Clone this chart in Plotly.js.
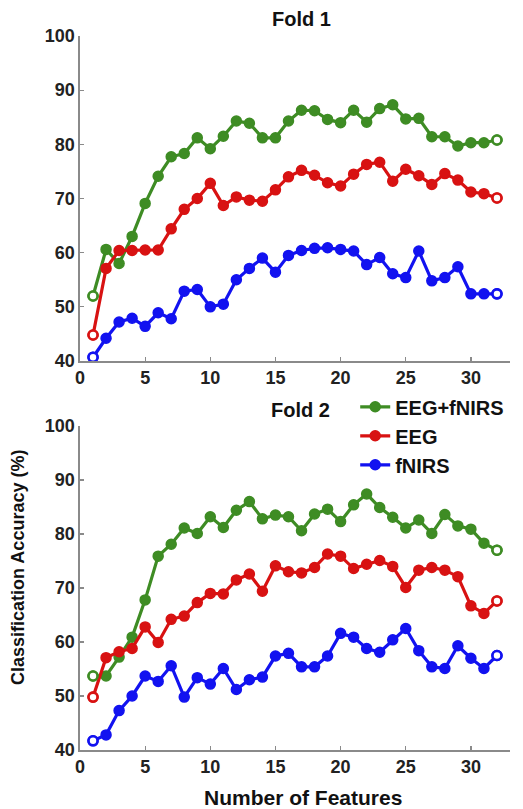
<!DOCTYPE html>
<html>
<head>
<meta charset="utf-8">
<script src="https://cdn.plot.ly/plotly-3.0.1.min.js"></script>
<style>html,body{margin:0;padding:0;background:#fff;}#chart{width:523px;height:809px;}</style>
</head>
<body>
<div id="chart"></div>
<script>
const features = [1,2,3,4,5,6,7,8,9,10,11,12,13,14,15,16,17,18,19,20,21,22,23,24,25,26,27,28,29,30,31,32];

const fold1Both  = [52.0,60.6,58.0,63.0,69.1,74.1,77.7,78.3,81.2,79.2,81.5,84.3,83.9,81.2,81.2,84.3,86.3,86.2,84.6,84.0,86.3,84.1,86.6,87.3,84.7,84.8,81.4,81.4,79.7,80.3,80.3,80.8];
const fold1EEG   = [44.8,57.1,60.4,60.4,60.5,60.5,64.4,68.0,70.0,72.8,68.7,70.3,69.7,69.5,71.6,74.0,75.2,74.3,72.9,72.3,74.5,76.3,76.7,73.2,75.4,74.2,72.6,74.6,73.4,71.2,70.9,70.1];
const fold1fNIRS = [40.7,44.2,47.2,47.9,46.4,48.9,47.8,52.9,53.2,50.0,50.5,55.0,57.1,59.0,56.4,59.5,60.4,60.8,60.9,60.6,60.3,57.8,59.1,56.1,55.4,60.3,54.8,55.4,57.4,52.4,52.4,52.4];

const fold2Both  = [53.7,53.7,57.2,60.9,67.8,75.9,78.1,81.1,80.1,83.2,81.2,84.4,86.0,82.8,83.5,83.2,80.6,83.7,84.6,82.3,85.4,87.4,84.9,83.1,81.1,82.6,80.1,83.6,81.5,80.9,78.3,77.0];
const fold2EEG   = [49.8,57.1,58.2,58.8,62.8,59.9,64.2,64.8,67.3,69.0,68.9,71.5,72.6,69.4,74.1,73.0,72.8,73.8,76.3,75.9,73.6,74.4,75.1,74.0,70.1,73.3,73.8,73.3,72.1,66.7,65.3,67.6];
const fold2fNIRS = [41.7,42.8,47.3,50.0,53.7,52.7,55.6,49.8,53.4,52.2,55.1,51.2,53.0,53.5,57.4,57.9,55.4,55.4,57.4,61.6,60.9,58.8,58.1,60.4,62.5,58.4,55.4,55.1,59.3,57.0,55.1,57.5];

const seriesNames = ['EEG+fNIRS','EEG','fNIRS'];
const xTickVals = [0,5,10,15,20,25,30];
const yTickVals = [40,50,60,70,80,90,100];
const foldTitles = ['Fold 1','Fold 2'];
const yTitle = 'Classification Accuracy (%)';
const xTitle = 'Number of Features';

const colors = ['#3e8c24','#d81212','#1212f0'];
const FONT = 'Liberation Sans, Arial, sans-serif';

function mk(y, i, xa, ya, showLegend) {
  return {
    x: features, y: y, xaxis: xa, yaxis: ya,
    type: 'scatter', mode: 'lines+markers',
    name: seriesNames[i], showlegend: showLegend,
    line: {color: colors[i], width: 3.2},
    marker: {size: 10, color: colors[i], line: {color: colors[i], width: 1.5}}
  };
}
function ends(y, i, xa, ya) {
  const n = y.length;
  return {
    x: [features[0], features[n - 1]], y: [y[0], y[n - 1]], xaxis: xa, yaxis: ya,
    type: 'scatter', mode: 'markers', showlegend: false, hoverinfo: 'skip',
    marker: {size: 9, color: '#ffffff', line: {color: colors[i], width: 2.6}}
  };
}

const data = [
  mk(fold1Both, 0, 'x', 'y', false),
  mk(fold1EEG, 1, 'x', 'y', false),
  mk(fold1fNIRS, 2, 'x', 'y', false),
  mk(fold2Both, 0, 'x2', 'y2', true),
  mk(fold2EEG, 1, 'x2', 'y2', true),
  mk(fold2fNIRS, 2, 'x2', 'y2', true),
  ends(fold1Both, 0, 'x', 'y'),
  ends(fold1EEG, 1, 'x', 'y'),
  ends(fold1fNIRS, 2, 'x', 'y'),
  ends(fold2Both, 0, 'x2', 'y2'),
  ends(fold2EEG, 1, 'x2', 'y2'),
  ends(fold2fNIRS, 2, 'x2', 'y2')
];

const xAx = {
  range: [0, 33], tickvals: xTickVals, ticks: 'inside', ticklen: 4, tickwidth: 1.2,
  tickcolor: '#8a8a8a', showline: true, linecolor: '#8a8a8a', linewidth: 1.6,
  showgrid: false, zeroline: false, mirror: false,
  tickfont: {family: FONT, size: 18, color: '#222', weight: 'bold'}
};
const yAx = {
  range: [40, 100], tickvals: yTickVals, ticks: 'inside', ticklen: 4, tickwidth: 1.2,
  tickcolor: '#8a8a8a', showline: true, linecolor: '#8a8a8a', linewidth: 1.6,
  showgrid: false, zeroline: false, mirror: false,
  tickfont: {family: FONT, size: 18, color: '#222', weight: 'bold'}
};

const layout = {
  width: 523, height: 809,
  margin: {l: 80, r: 13, t: 36, b: 59},
  paper_bgcolor: '#ffffff', plot_bgcolor: '#ffffff',
  showlegend: true,
  xaxis: Object.assign({}, xAx, {anchor: 'y', domain: [0, 1]}),
  yaxis: Object.assign({}, yAx, {anchor: 'x', domain: [0.5448, 1]}),
  xaxis2: Object.assign({}, xAx, {anchor: 'y2', domain: [0, 1]}),
  yaxis2: Object.assign({}, yAx, {anchor: 'x2', domain: [0, 0.4538]}),
  legend: {
    x: 0.64, y: 0.508, xanchor: 'left', yanchor: 'top',
    bgcolor: 'rgba(0,0,0,0)', borderwidth: 0,
    font: {family: FONT, size: 20, color: '#111', weight: 'bold'},
    tracegroupgap: 0
  },
  annotations: [
    {text: foldTitles[0], xref: 'paper', yref: 'paper', x: 0.516, y: 1.0238, xanchor: 'center', yanchor: 'middle', showarrow: false,
     font: {family: FONT, size: 20, color: '#111', weight: 'bold'}},
    {text: foldTitles[1], xref: 'paper', yref: 'paper', x: 0.512, y: 0.4762, xanchor: 'center', yanchor: 'middle', showarrow: false,
     font: {family: FONT, size: 20, color: '#111', weight: 'bold'}},
    {text: yTitle, xref: 'paper', yref: 'paper', x: -0.1442, y: 0.2563, xanchor: 'center', yanchor: 'middle', textangle: -90, showarrow: false,
     font: {family: FONT, size: 18, color: '#111', weight: 'bold'}},
    {text: xTitle, xref: 'paper', yref: 'paper', x: 0.519, y: -0.0672, xanchor: 'center', yanchor: 'middle', showarrow: false,
     font: {family: FONT, size: 21, color: '#111', weight: 'bold'}}
  ]
};

Plotly.newPlot('chart', data, layout, {displayModeBar: false, staticPlot: true});
</script>
</body>
</html>
